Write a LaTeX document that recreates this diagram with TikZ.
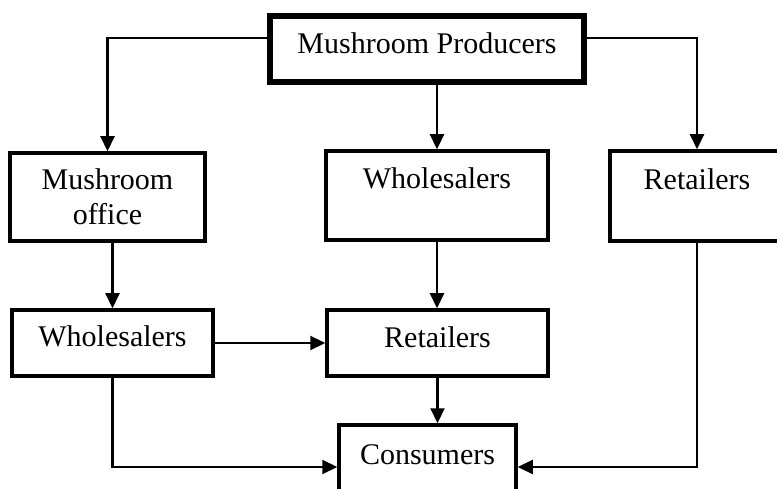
\documentclass[tikz,border=0pt]{standalone}
\usepackage{fontspec}
\setmainfont{Liberation Serif}
\usetikzlibrary{arrows.meta,calc,positioning}
\tikzset{
	chain diagram/.style={
		x=1pt, y=-1pt,
		font=\fontsize{30}{35}\selectfont,
		line width=2.2pt,
		ar/.style={-{Triangle[length=15pt,width=14pt]}}
		},
	blk/.style 2 args={draw, line width=3.5pt, inner sep=0pt,
		minimum width=#1pt, minimum height=#2pt},
	% baseline #1 below the top edge of a box #2 high
	blk text/.code 2 args={
		\pgfmathsetlengthmacro{\blkdp}{#2-#1}
		\pgfkeysalso{text height=#1pt, text depth=\blkdp}}
}

\begin{document}
\begin{tikzpicture}[chain diagram]
   \useasboundingbox (0,0) rectangle (777,489);
   \clip (0,0) rectangle (777,489);
   \node[blk={314}{66}, blk text={38}{66}, line width=5.5pt] (prod) at (427,49) {Mushroom Producers};
   \node[blk={195}{88}, align=center] (office) at (107.5,197) {Mushroom\\office};
   \node[blk={222}{89}, blk text={38}{89}] (whole1) at (437,195.5) {Wholesalers};
   \node[blk={174}{90}, blk text={39}{90}] (ret1) at (697,196) {Retailers};
   \node[blk={201}{66}, blk text={36}{66}] (whole2) at (112.5,343) {Wholesalers};
   \node[blk={221}{66}, blk text={37}{66}] (ret2) at (437.5,343) {Retailers};
   \node[blk={177}{84}, blk text={39}{84}] (cons) at (427.5,467) {Consumers};
   \draw[ar] ([yshift=11pt]prod.west) -| (office.north);
   \draw[ar] ([yshift=11pt]prod.east) -| (ret1.north);
   \draw[ar] (prod.south -| whole1.north) -- (whole1.north);
   \draw[ar] (whole2.north |- office.south) -- (whole2.north);
   \draw[ar] (whole1.south) -- (whole1.south |- ret2.north);
   \draw[ar] (whole2.east) -- (ret2.west);
   \draw[ar] (ret2.south) -- (ret2.south |- cons.north);
   \draw[ar] (whole2.south) |- (cons.west);
   \draw[ar] (ret1.south) |- (cons.east);
\end{tikzpicture}
\end{document}
